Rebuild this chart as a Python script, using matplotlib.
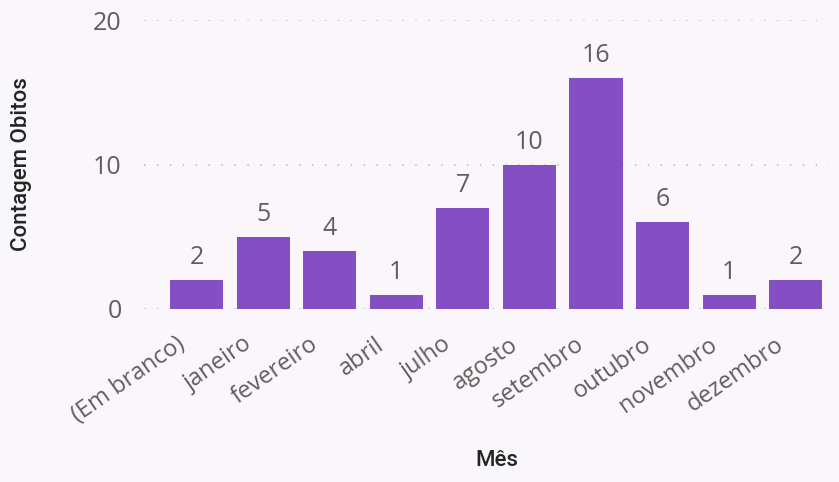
import matplotlib
matplotlib.use("Agg")
import matplotlib.pyplot as plt
from matplotlib.transforms import ScaledTranslation

categories = ["(Em branco)", "janeiro", "fevereiro", "abril", "julho",
              "agosto", "setembro", "outubro", "novembro", "dezembro"]
values = [2, 5, 4, 1, 7, 10, 16, 6, 1, 2]
yticks = [0, 10, 20]
x_title = "Mês"
y_title = "Contagem Obitos"

BG = "#F9F7FC"
BAR = "#834FC2"
TXT = "#605E5C"
TITLE = "#252423"

fig = plt.figure(figsize=(8.39, 4.82), dpi=100, facecolor=BG)
ax = fig.add_axes([144/839, 1 - 309/482, (829-144)/839, (309-20)/482])
ax.set_facecolor(BG)

x = list(range(len(categories)))
bars = ax.bar(x, values, width=0.8, color=BAR, zorder=3)

ax.set_xlim(-0.79, 9.5)
ax.set_ylim(0, 20)
ax.set_yticks(yticks)
ax.yaxis.grid(True, color="#C8C6C4", linestyle=(0, (0.7, 5.5)), linewidth=1.5, zorder=0)
ax.xaxis.grid(False)
for s in ax.spines.values():
    s.set_visible(False)

ax.tick_params(axis="both", length=0, colors=TXT)
ax.set_yticklabels([str(t) for t in yticks], fontsize=18, fontfamily="Open Sans", color=TXT)
ax.tick_params(axis="y", pad=16)

ax.set_xticks(x)
ax.set_xticklabels(categories, fontsize=17, fontfamily="Open Sans", color=TXT,
                   rotation=35, ha="right", va="center", rotation_mode="anchor")
ax.tick_params(axis="x", pad=24)
off = ScaledTranslation(-14/100, 0, fig.dpi_scale_trans)
for lab in ax.get_xticklabels():
    lab.set_transform(lab.get_transform() + off)

for xi, v in zip(x, values):
    ax.annotate(str(v), (xi, v), xytext=(0, 11.5), textcoords="offset points",
                ha="center", va="baseline", fontsize=18, fontfamily="Open Sans", color=TXT)

fig.text(22/839, 1 - 164/482, y_title, rotation=90, ha="center", va="center",
         fontsize=16, fontfamily="Roboto", fontweight="medium", color=TITLE)
fig.text(497/839, 1 - 460/482, x_title, ha="center", va="center",
         fontsize=16, fontfamily="Roboto", fontweight="medium", color=TITLE)

fig.savefig("out.png", dpi=100, facecolor=BG)
